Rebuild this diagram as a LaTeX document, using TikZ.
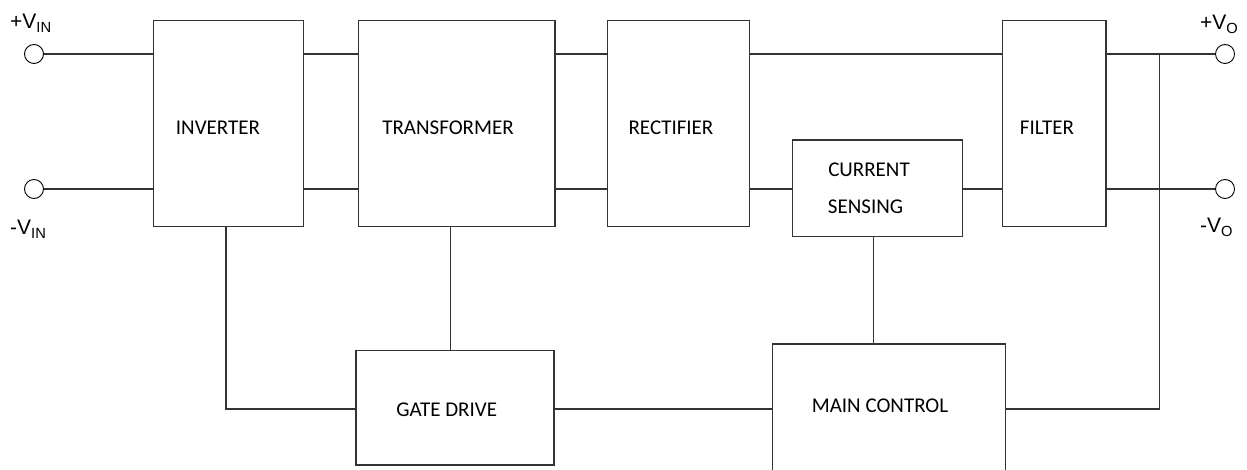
\documentclass[tikz,border=0pt]{standalone}
\usepackage{fontspec}
\setmainfont{Carlito}
\newfontfamily\labfont{Liberation Sans}
\begin{document}
\begin{tikzpicture}[x=1pt,y=-1pt,
  blk/.style={draw=black!80,line width=1.2pt,rectangle,inner sep=0pt},
  txt/.style={font=\fontsize{21}{24}\selectfont,inner sep=0pt,anchor=center},
  term/.style={draw=black,line width=0.9pt,circle,minimum size=19pt,inner sep=0pt,fill=white},
  lab/.style={font=\labfont\fontsize{21}{24}\selectfont,inner sep=0pt,anchor=base west},
  wire/.style={draw=black!80,line width=1.2pt}]
\clip (0,0) rectangle (1247,470);
\useasboundingbox (0,0) rectangle (1247,470);
% blocks
\node[blk,minimum width=150pt,minimum height=206pt] (inv) at (228.3,123.7) {};
\node[blk,minimum width=196.7pt,minimum height=206pt] (trans) at (456.7,123.7) {};
\node[blk,minimum width=142pt,minimum height=206pt] (rect) at (678.3,123.7) {};
\node[blk,minimum width=169.6pt,minimum height=96.7pt] (cs) at (877.5,188.3) {};
\node[blk,minimum width=103.3pt,minimum height=206pt] (filt) at (1054.3,123.7) {};
\node[blk,minimum width=198pt,minimum height=114.3pt] (gd) at (455,407.9) {};
\node[blk,minimum width=233pt,minimum height=150pt] (mc) at (889.2,419) {};
% texts
\node[txt] (tinv) at (218,128) {INVERTER};
\node[txt] (ttrans) at (448,128) {TRANSFORMER};
\node[txt] (trect) at (671,128) {RECTIFIER};
\node[txt] (tcs1) at (869,170) {CURRENT};
\node[txt] (tcs2) at (865.5,207) {SENSING};
\node[txt] (tfilt) at (1047,128) {FILTER};
\node[txt] (tgd) at (446.7,410) {GATE DRIVE};
\node[txt] (tmc) at (880,406) {MAIN CONTROL};
% terminals
\node[term] (inP) at (34,54) {};
\node[term] (inN) at (34,189) {};
\node[term] (outP) at (1225,54) {};
\node[term] (outN) at (1225,189) {};
\node[lab] (linP) at (10,29) {+V\textsubscript{IN}};
\node[lab] (linN) at (10,235) {-V\textsubscript{IN}};
\node[lab] (loutP) at (1200,30) {+V\textsubscript{O}};
\node[lab] (loutN) at (1200,233) {-V\textsubscript{O}};
% coordinates
\coordinate (tapT) at (1159.3,54);
\coordinate (tapB) at (1159.3,409);
\coordinate (invB) at (226,226.7);
\coordinate (invC) at (226,409);
\coordinate (trB) at (450.7,226.7);
\coordinate (csB) at (873.3,236.7);
% wires
\draw[wire] (inP.east) -- (inP.east -| inv.west);
\draw[wire] (inN.east) -- (inN.east -| inv.west);
\draw[wire] (inv.east |- inP) -- (trans.west |- inP);
\draw[wire] (inv.east |- inN) -- (trans.west |- inN);
\draw[wire] (trans.east |- inP) -- (rect.west |- inP);
\draw[wire] (trans.east |- inN) -- (rect.west |- inN);
\draw[wire] (rect.east |- inP) -- (filt.west |- inP);
\draw[wire] (rect.east |- inN) -- (cs.west |- inN);
\draw[wire] (cs.east |- inN) -- (filt.west |- inN);
\draw[wire] (filt.east |- outP) -- (outP.west);
\draw[wire] (filt.east |- outN) -- (outN.west);
\draw[wire] (tapT) -- (tapB) -- (mc.east |- tapB);
\draw[wire] (invB) -- (invC) -- (gd.west |- invC);
\draw[wire] (trB) -- (trB |- gd.north);
\draw[wire] (gd.east |- invC) -- (mc.west |- invC);
\draw[wire] (csB) -- (csB |- mc.north);
\end{tikzpicture}
\end{document}
